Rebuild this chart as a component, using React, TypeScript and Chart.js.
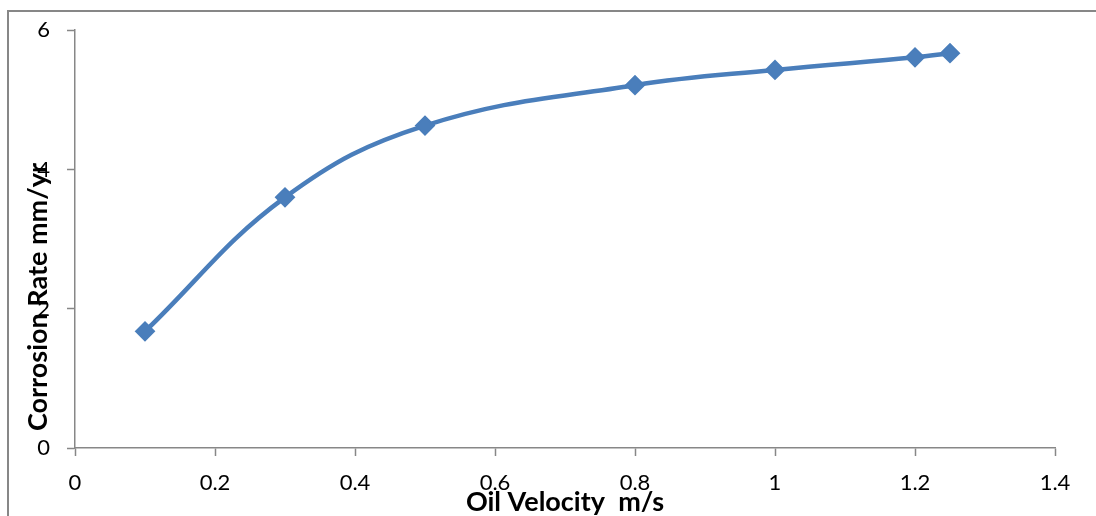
import React, { useEffect, useRef } from "react";
import { Chart, registerables } from "chart.js";

Chart.register(...registerables);

const oilVelocity = [0.1, 0.3, 0.5, 0.8, 1.0, 1.2, 1.25];
const corrosionRate = [1.675, 3.6, 4.63, 5.21, 5.43, 5.61, 5.67];
const xTickLabels = ["0", "0.2", "0.4", "0.6", "0.8", "1", "1.2", "1.4"];
const yTickLabels = ["0", "2", "4", "6"];
const xTitle = "Oil Velocity  m/s";
const yTitle = "Corrosion Rate mm/yr";

const AXIS_GREY = "#878787";
const LINE_BLUE = "#4A7EBB";
const FONT = "Lato, 'Open Sans', sans-serif";

export default function App() {
  const ref = useRef<HTMLCanvasElement | null>(null);

  useEffect(() => {
    if (!ref.current) return;
    const framePlugin = {
      id: "frameAndTitles",
      beforeDraw(chart: any) {
        const ctx = chart.ctx;
        ctx.save();
        ctx.strokeStyle = AXIS_GREY;
        ctx.lineWidth = 2;
        ctx.beginPath();
        ctx.moveTo(8, 516);
        ctx.lineTo(8, 11);
        ctx.lineTo(1096, 11);
        ctx.stroke();
        ctx.restore();
      },
      afterDraw(chart: any) {
        const ctx = chart.ctx;
        const area = chart.chartArea;
        ctx.save();
        ctx.fillStyle = "#000";
        ctx.font = `bold 27px ${FONT}`;
        ctx.textAlign = "center";
        ctx.textBaseline = "alphabetic";
        ctx.fillText(xTitle, (area.left + area.right) / 2, 511);
        ctx.translate(47, 297);
        ctx.rotate(-Math.PI / 2);
        ctx.fillText(yTitle, 0, 0);
        ctx.restore();
      },
    };

    const chart = new Chart(ref.current, {
      type: "line",
      data: {
        datasets: [
          {
            data: oilVelocity.map((x, i) => ({ x, y: corrosionRate[i] })),
            borderColor: LINE_BLUE,
            backgroundColor: LINE_BLUE,
            borderWidth: 4.5,
            tension: 0.4,
            pointStyle: "rectRot",
            pointRadius: 9,
            pointBorderWidth: 2,
            pointBorderColor: LINE_BLUE,
            pointBackgroundColor: LINE_BLUE,
            fill: false,
          },
        ],
      },
      options: {
        animation: false,
        responsive: false,
        maintainAspectRatio: false,
        layout: { padding: { left: 0, top: 29, right: 41, bottom: 0 } },
        plugins: {
          legend: { display: false },
          tooltip: { enabled: false },
          title: { display: false },
        },
        scales: {
          x: {
            type: "linear",
            min: 0,
            max: 1.4,
            afterFit(scale: any) {
              scale.height = 68;
            },
            afterBuildTicks(scale: any) {
              scale.ticks = xTickLabels.map((l) => ({ value: parseFloat(l) }));
            },
            ticks: {
              autoSkip: false,
              maxRotation: 0,
              padding: 14,
              color: "#000",
              font: { family: FONT, size: 22 },
              callback: (_v: any, i: number) => xTickLabels[i],
            },
            grid: {
              drawOnChartArea: false,
              drawTicks: true,
              tickLength: 8,
              tickColor: AXIS_GREY,
              tickWidth: 1.5,
            },
            border: { display: true, color: AXIS_GREY, width: 1.5 },
          },
          y: {
            type: "linear",
            min: 0,
            max: 6,
            afterFit(scale: any) {
              scale.width = 75;
            },
            afterBuildTicks(scale: any) {
              scale.ticks = yTickLabels.map((l) => ({ value: parseFloat(l) }));
            },
            ticks: {
              padding: 17,
              color: "#000",
              font: { family: FONT, size: 22 },
              callback: (_v: any, i: number) => yTickLabels[i],
            },
            grid: {
              drawOnChartArea: false,
              drawTicks: true,
              tickLength: 8,
              tickColor: AXIS_GREY,
              tickWidth: 1.5,
            },
            border: { display: true, color: AXIS_GREY, width: 1.5 },
          },
        },
      },
      plugins: [framePlugin],
    } as any);
    return () => chart.destroy();
  }, []);

  return (
    <div style={{ position: "absolute", left: 0, top: 0, width: 1096, height: 516, background: "#fff" }}>
      <canvas ref={ref} width={1096} height={516} style={{ width: 1096, height: 516, display: "block" }} />
    </div>
  );
}
